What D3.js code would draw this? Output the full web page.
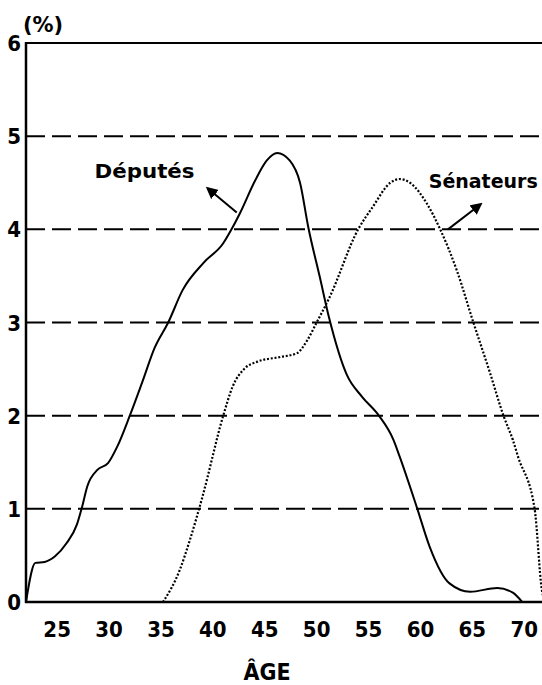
<!DOCTYPE html>
<html>
<head>
<meta charset="utf-8">
<script src="https://cdn.jsdelivr.net/npm/d3@7"></script>
<style>
  body { margin: 0; background: #fff; }
  svg { display: block; }
  .lbl { font-family: "Liberation Sans Narrow", "DejaVu Sans Condensed", "Liberation Sans", sans-serif; font-weight: 700; }
  .leg { font-family: "DejaVu Sans", "Liberation Sans", sans-serif; font-weight: 700; }
</style>
</head>
<body>
<div id="viz"></div>
<script>
// Répartition par âge (%)
const deputesAge = [22, 22.9, 23.8, 24.8, 25.9, 26.9, 27.4, 27.9, 28.9, 29.9, 30.8, 32.0, 33.2, 34.4, 35.7, 37.1, 39.1, 41.0, 41.8, 42.6, 44.1, 45.2, 46.2, 47.4, 48.4, 49.2, 50.3, 51.2, 52.9, 54.4, 56.0, 57.4, 58.0, 59.7, 60.9, 62.8, 64.8, 67.4, 68.9, 69.8];
const deputesVal = [0, 0.42, 0.43, 0.49, 0.63, 0.83, 1.02, 1.24, 1.42, 1.49, 1.67, 2.0, 2.36, 2.73, 3.0, 3.35, 3.64, 3.85, 4.0, 4.17, 4.53, 4.74, 4.82, 4.74, 4.5, 4.02, 3.49, 3.05, 2.44, 2.2, 2.0, 1.74, 1.56, 1.0, 0.59, 0.2, 0.11, 0.15, 0.1, 0];

const senateursAge = [35.2, 36.8, 37.8, 39.0, 41.0, 41.9, 43.1, 44.3, 46.5, 48.1, 49.1, 50.0, 51.2, 54.0, 55.4, 57.1, 58.0, 59.0, 60.6, 61.9, 63.5, 65.1, 66.7, 68.0, 68.9, 69.4, 71.0, 71.7, 72.0];
const senateursVal = [0, 0.34, 0.67, 1.13, 2.0, 2.31, 2.51, 2.58, 2.63, 2.67, 2.81, 3.0, 3.26, 4.0, 4.24, 4.5, 4.54, 4.5, 4.28, 4.0, 3.56, 3.0, 2.46, 2.0, 1.74, 1.56, 1.0, 0.13, 0];

const xTicks = [25, 30, 35, 40, 45, 50, 55, 60, 65, 70];
const yTicks = [0, 1, 2, 3, 4, 5, 6];
const gridVals = [1, 2, 3, 4, 5];

// étiquettes : [âge, valeur] ; flèches : [âge départ, valeur, âge pointe, valeur]
const legendNames = ["Députés", "Sénateurs"];
const legendPos = [[28.6, 4.55], [60.8, 4.44]];
const legendArrows = [[42.3, 4.18, 39.5, 4.44], [62.65, 4.0, 65.8, 4.27]];

const W = 542, H = 685;

const svg = d3.select("#viz").append("svg")
    .attr("width", W)
    .attr("height", H);

let x = d3.scaleLinear().domain([22, 72]).range([26, 545]);
let y = d3.scaleLinear().domain([0, 6]).range([602, 43]);

svg.append("defs").append("marker")
    .attr("id", "head")
    .attr("viewBox", "0 0 10 10")
    .attr("refX", 8).attr("refY", 5)
    .attr("markerWidth", 6).attr("markerHeight", 6)
    .attr("markerUnits", "strokeWidth")
    .attr("orient", "auto")
  .append("path")
    .attr("d", "M0,0 L10,5 L0,10 z")
    .attr("fill", "#000");

// lignes pointillées
svg.append("g")
  .selectAll("line")
  .data(gridVals)
  .enter().append("line")
    .attr("x1", x(22)).attr("x2", W)
    .attr("y1", d => y(d)).attr("y2", d => y(d))
    .attr("stroke", "#000")
    .attr("stroke-width", 2)
    .attr("stroke-dasharray", "19,7");

// cadre haut
svg.append("line")
    .attr("x1", x(22)).attr("x2", W)
    .attr("y1", y(6)).attr("y2", y(6))
    .attr("stroke", "#000").attr("stroke-width", 2);

// axes
svg.append("line")
    .attr("x1", x(22)).attr("x2", x(22))
    .attr("y1", y(6) - 1).attr("y2", y(0) + 1)
    .attr("stroke", "#000").attr("stroke-width", 2.5);
svg.append("line")
    .attr("x1", x(22) - 1).attr("x2", W)
    .attr("y1", y(0)).attr("y2", y(0))
    .attr("stroke", "#000").attr("stroke-width", 2.5);

svg.append("g")
  .selectAll("text")
  .data(yTicks)
  .enter().append("text")
    .attr("class", "lbl")
    .attr("x", 21)
    .attr("y", d => y(d) + 8)
    .attr("text-anchor", "end")
    .attr("font-size", 22)
    .text(d => d);

svg.append("g")
  .selectAll("text")
  .data(xTicks)
  .enter().append("text")
    .attr("class", "lbl")
    .attr("x", d => x(d))
    .attr("y", 637)
    .attr("text-anchor", "middle")
    .attr("font-size", 22)
    .text(d => d);

svg.append("text")
    .attr("class", "leg")
    .attr("x", 43).attr("y", 32)
    .attr("text-anchor", "middle")
    .attr("font-size", 21)
    .text("(%)");

svg.append("text")
    .attr("class", "lbl")
    .attr("x", 267).attr("y", 680)
    .attr("text-anchor", "middle")
    .attr("font-size", 23)
    .text("ÂGE");

// courbes
let line = d3.line()
    .x(d => x(d[0]))
    .y(d => y(d[1]))
    .curve(d3.curveMonotoneX);

svg.append("path")
    .datum(deputesAge.map((a, i) => [a, deputesVal[i]]))
    .attr("d", line)
    .attr("fill", "none")
    .attr("stroke", "#000")
    .attr("stroke-width", 2);

svg.append("path")
    .datum(senateursAge.map((a, i) => [a, senateursVal[i]]))
    .attr("d", line)
    .attr("fill", "none")
    .attr("stroke", "#000")
    .attr("stroke-width", 2.2)
    .attr("stroke-dasharray", "2,1.8");

// légendes
svg.append("g")
  .selectAll("text")
  .data(legendNames)
  .enter().append("text")
    .attr("class", "leg")
    .attr("x", (d, i) => x(legendPos[i][0]))
    .attr("y", (d, i) => y(legendPos[i][1]))
    .attr("font-size", (d, i) => i == 0 ? 20 : 19)
    .attr("textLength", (d, i) => i == 0 ? 100 : 109)
    .attr("lengthAdjust", "spacingAndGlyphs")
    .text(d => d);

svg.append("g")
  .selectAll("line")
  .data(legendArrows)
  .enter().append("line")
    .attr("x1", d => x(d[0])).attr("y1", d => y(d[1]))
    .attr("x2", d => x(d[2])).attr("y2", d => y(d[3]))
    .attr("stroke", "#000")
    .attr("stroke-width", 2)
    .attr("marker-end", "url(#head)");
</script>
</body>
</html>
